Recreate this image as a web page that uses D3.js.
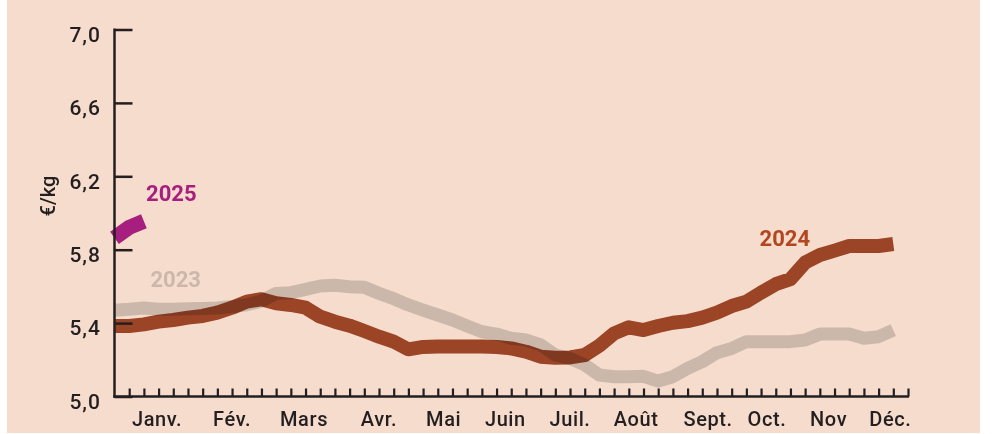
<!DOCTYPE html>
<html>
<head>
<meta charset="utf-8">
<script src="https://cdn.jsdelivr.net/npm/d3@7"></script>
<style>
  html, body { margin: 0; padding: 0; background: #ffffff; }
  svg { display: block; }
  text { font-family: Roboto, "Noto Sans", sans-serif; }
</style>
</head>
<body>
<svg id="chart" width="993" height="434"></svg>
<script>
// ---- data ----
const weeks = d3.range(0, 54);          // week index 0..53
const monthLabels = ["Janv.", "Fév.", "Mars", "Avr.", "Mai", "Juin", "Juil.", "Août", "Sept.", "Oct.", "Nov", "Déc."];
const monthPos = [2.9, 8.0, 12.9, 18.0, 22.4, 26.6, 31.0, 35.5, 40.4, 44.4, 48.6, 52.8];
const yTicks = [5.0, 5.4, 5.8, 6.2, 6.6, 7.0];

const values2023 = [
  5.47, 5.475, 5.482, 5.475, 5.476, 5.478, 5.48, 5.482, 5.49, 5.50,
  5.52, 5.562, 5.566, 5.584, 5.602, 5.606, 5.598, 5.595, 5.562, 5.533,
  5.499, 5.471, 5.444, 5.417, 5.384, 5.353, 5.34, 5.317, 5.308, 5.281,
  5.226, 5.208, 5.172, 5.117, 5.108, 5.108, 5.11, 5.084, 5.108, 5.153,
  5.19, 5.239, 5.262, 5.299, 5.299, 5.299, 5.299, 5.308, 5.34, 5.34,
  5.34, 5.317, 5.326, 5.362
];
const values2024 = [
  5.384, 5.384, 5.393, 5.408, 5.417, 5.43, 5.439, 5.457, 5.484, 5.517,
  5.53, 5.508, 5.499, 5.484, 5.435, 5.408, 5.386, 5.357, 5.326, 5.299,
  5.257, 5.27, 5.272, 5.272, 5.272, 5.272, 5.27, 5.262, 5.244, 5.217,
  5.211, 5.213, 5.226, 5.277, 5.344, 5.377, 5.362, 5.384, 5.402, 5.411,
  5.43, 5.457, 5.493, 5.517, 5.566, 5.612, 5.64, 5.73, 5.771, 5.795,
  5.82, 5.82, 5.82, 5.831
];
const values2025 = [5.865, 5.922, 5.955];

const seriesNames = ["2023", "2024", "2025"];
const seriesColors = ["#cbb8aa", "#a14f2f", "#a71f7e"];
const labelColors = ["#cbb8aa", "#b3451f", "#a71f7e"];
const labelPos = [[2.45, 5.596], [43.9, 5.82], [2.15, 6.065]];

// ---- layout ----
const svg = d3.select("#chart");
svg.append("rect").attr("x", 7).attr("y", 0).attr("width", 973).attr("height", 433).attr("fill", "#f6dccd");

const x = d3.scaleLinear().domain([0, 54]).range([114.5, 908]);
const y = d3.scaleLinear().domain([5.0, 7.0]).range([396.5, 29.5]);
const axisColor = "#231f20";

// lines
const line = d3.line().x((d, i) => x(i)).y(d => y(d)).curve(d3.curveLinear);
const allSeries = [values2023, values2024, values2025];
const widths = [13, 14, 15];
allSeries.forEach((vals, k) => {
  svg.append("path")
    .datum(vals)
    .attr("d", line)
    .attr("fill", "none")
    .attr("stroke", seriesColors[k])
    .attr("stroke-width", widths[k])
    .attr("stroke-linejoin", "round")
    .attr("stroke-linecap", "butt")
    .style("mix-blend-mode", k === 1 ? "multiply" : "normal");
});

// series labels
seriesNames.forEach((n, k) => {
  svg.append("text")
    .attr("x", x(labelPos[k][0]))
    .attr("y", y(labelPos[k][1]))
    .attr("fill", labelColors[k])
    .attr("font-size", 22)
    .attr("font-weight", 700)
    .text(n);
});

// y axis
const yAxis = d3.axisRight(y).tickValues(yTicks).tickSize(18).tickFormat("");
const gy = svg.append("g").attr("transform", `translate(${x(0)},0)`).call(yAxis);
gy.select(".domain").remove();
gy.selectAll(".tick line").attr("stroke", axisColor).attr("stroke-width", 2.5);
svg.append("line").attr("x1", x(0)).attr("x2", x(0)).attr("y1", y(7.0) - 1).attr("y2", y(5.0) + 1.2)
  .attr("stroke", axisColor).attr("stroke-width", 2.5);

// y tick labels
svg.selectAll(".ylab").data(yTicks).join("text")
  .attr("class", "ylab")
  .attr("x", 101)
  .attr("y", d => y(d) + 5)
  .attr("dy", "0.35em")
  .attr("text-anchor", "end")
  .attr("font-size", 21)
  .attr("font-weight", 500)
  .attr("letter-spacing", 1)
  .attr("fill", axisColor)
  .text(d => d3.format(".1f")(d).replace(".", ","));

// x axis
const xAxis = d3.axisTop(x).tickValues(d3.range(1, 55)).tickSize(8).tickFormat("");
const gx = svg.append("g").attr("transform", `translate(0,${y(5.0)})`).call(xAxis);
gx.select(".domain").remove();
gx.selectAll(".tick line").attr("stroke", axisColor).attr("stroke-width", 2.2);
svg.append("line").attr("x1", x(0) - 1.2).attr("x2", x(54) + 1).attr("y1", y(5.0)).attr("y2", y(5.0))
  .attr("stroke", axisColor).attr("stroke-width", 2.5);

// month labels
svg.selectAll(".mlab").data(monthLabels).join("text")
  .attr("class", "mlab")
  .attr("x", (d, i) => x(monthPos[i]))
  .attr("y", 425.5)
  .attr("text-anchor", "middle")
  .attr("font-size", 20)
  .attr("font-weight", 500)
  .attr("letter-spacing", 0.6)
  .attr("fill", axisColor)
  .text(d => d);

// y title
svg.append("text")
  .attr("transform", "translate(55,196) rotate(-90)")
  .attr("text-anchor", "middle")
  .attr("font-size", 20)
  .attr("font-weight", 500)
  .attr("fill", axisColor)
  .text("€/kg");
</script>
</body>
</html>
